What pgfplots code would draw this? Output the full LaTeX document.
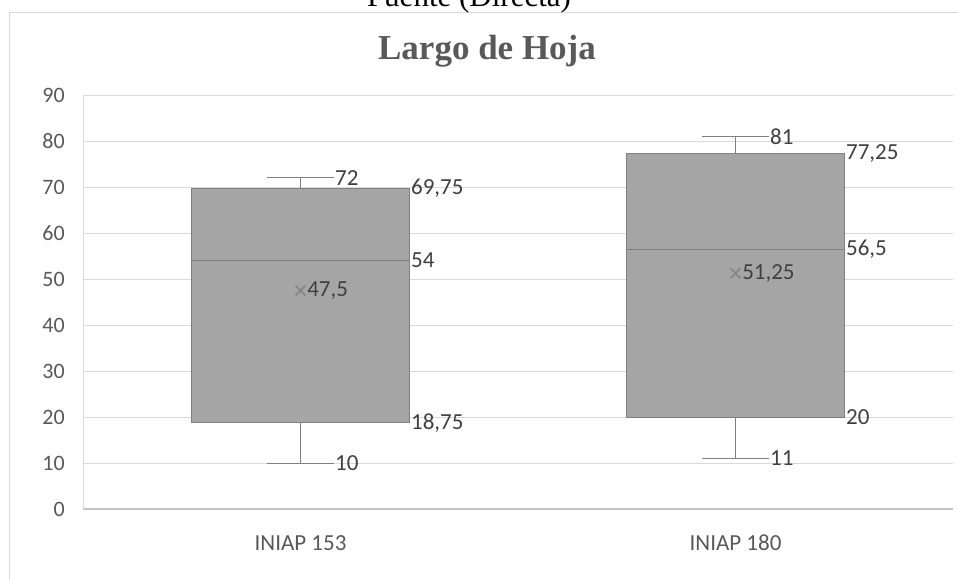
\documentclass[border=0pt]{standalone}
\usepackage{fontspec}
\setmainfont{Carlito}
\newfontfamily\seriffont{Liberation Serif}
\usepackage{pgfplots}
\pgfplotsset{compat=1.18}
\definecolor{txt}{HTML}{595959}
\definecolor{lbl}{HTML}{404040}
\definecolor{gridc}{HTML}{D9D9D9}
\definecolor{axisc}{HTML}{C4C4C4}
\definecolor{boxfill}{HTML}{A5A5A5}
\definecolor{boxedge}{HTML}{808080}
\definecolor{meanc}{HTML}{858585}
\begin{document}
\begin{tikzpicture}
\useasboundingbox (0,0) rectangle (958pt,580pt);
\fill[white] (0,0) rectangle (958pt,580pt);
\draw[color=gridc, line width=1.2pt] (9.5pt,-5pt) -- (9.5pt,567.5pt) -- (970pt,567.5pt);
\node[font=\seriffont\fontsize{31}{31}\selectfont, anchor=base, inner sep=0pt] at (469pt,573pt) {Fuente (Directa)};
\node[font=\seriffont\bfseries\fontsize{35}{35}\selectfont, text=txt, anchor=base, inner sep=0pt] at (487pt,520pt) {Largo de Hoja};
\begin{axis}[
  at={(83pt,71pt)}, anchor=south west, scale only axis,
  width=870pt, height=414pt,
  xmin=-0.5, xmax=1.5, ymin=0, ymax=90,
  ytick={0,10,...,90},
  xtick={0,1}, xticklabels={INIAP 153, INIAP 180},
  ymajorgrids, grid style={color=gridc, line width=0.9pt},
  axis x line*=bottom, axis y line*=left,
  x axis line style={color=axisc, line width=1.2pt, -},
  y axis line style={color=gridc, line width=0.9pt, -},
  major tick length=0pt, tick style={draw=none},
  /pgf/number format/assume math mode=true,
  yticklabel style={font=\fontsize{22}{22}\selectfont, text=txt, anchor=east, inner sep=0pt, xshift=-18pt},
  xticklabel style={font=\fontsize{23}{23}\selectfont, text=txt, anchor=north, inner sep=0pt, yshift=-26pt},
  clip=false,
]
% box INIAP 153
\addplot[fill=boxfill, draw=boxedge, line width=0.9pt, mark=none] coordinates {(-0.2515,18.75) (0.2515,18.75) (0.2515,69.75) (-0.2515,69.75)} -- cycle;
\addplot[draw=boxedge, line width=0.9pt, mark=none] coordinates {(-0.2515,54) (0.2515,54)};
\addplot[draw=boxedge, line width=0.9pt, mark=none] coordinates {(0,69.75) (0,72)};
\addplot[draw=boxedge, line width=0.9pt, mark=none] coordinates {(-0.077,72) (0.077,72)};
\addplot[draw=boxedge, line width=0.9pt, mark=none] coordinates {(0,18.75) (0,10)};
\addplot[draw=boxedge, line width=0.9pt, mark=none] coordinates {(-0.077,10) (0.077,10)};
% box INIAP 180
\addplot[fill=boxfill, draw=boxedge, line width=0.9pt, mark=none] coordinates {(0.7485,20) (1.2515,20) (1.2515,77.25) (0.7485,77.25)} -- cycle;
\addplot[draw=boxedge, line width=0.9pt, mark=none] coordinates {(0.7485,56.5) (1.2515,56.5)};
\addplot[draw=boxedge, line width=0.9pt, mark=none] coordinates {(1,77.25) (1,81)};
\addplot[draw=boxedge, line width=0.9pt, mark=none] coordinates {(0.923,81) (1.077,81)};
\addplot[draw=boxedge, line width=0.9pt, mark=none] coordinates {(1,20) (1,11)};
\addplot[draw=boxedge, line width=0.9pt, mark=none] coordinates {(0.923,11) (1.077,11)};
% mean markers
\addplot[only marks, mark=x, mark size=7pt, color=meanc, line width=1.5pt,
  nodes near coords, point meta=explicit symbolic,
  every node near coord/.append style={anchor=west, xshift=6pt, inner sep=0pt, font=\fontsize{23}{23}\selectfont, text=lbl}]
  coordinates {(0,47.5) [47,5] (1,51.25) [51,25]};
% whisker labels
\addplot[draw=none, mark=none,
  nodes near coords, point meta=explicit symbolic,
  every node near coord/.append style={anchor=west, inner sep=1pt, font=\fontsize{23}{23}\selectfont, text=lbl}]
  coordinates {(0.077,72) [72] (0.077,10) [10] (1.077,81) [81] (1.077,11) [11]};
% box labels
\addplot[draw=none, mark=none,
  nodes near coords, point meta=explicit symbolic,
  every node near coord/.append style={anchor=west, inner sep=1pt, font=\fontsize{23}{23}\selectfont, text=lbl}]
  coordinates {(0.2515,69.75) [69,75] (0.2515,54) [54] (0.2515,18.75) [18,75]
               (1.2515,77.25) [77,25] (1.2515,56.5) [56,5] (1.2515,20) [20]};
\end{axis}
\end{tikzpicture}
\end{document}
